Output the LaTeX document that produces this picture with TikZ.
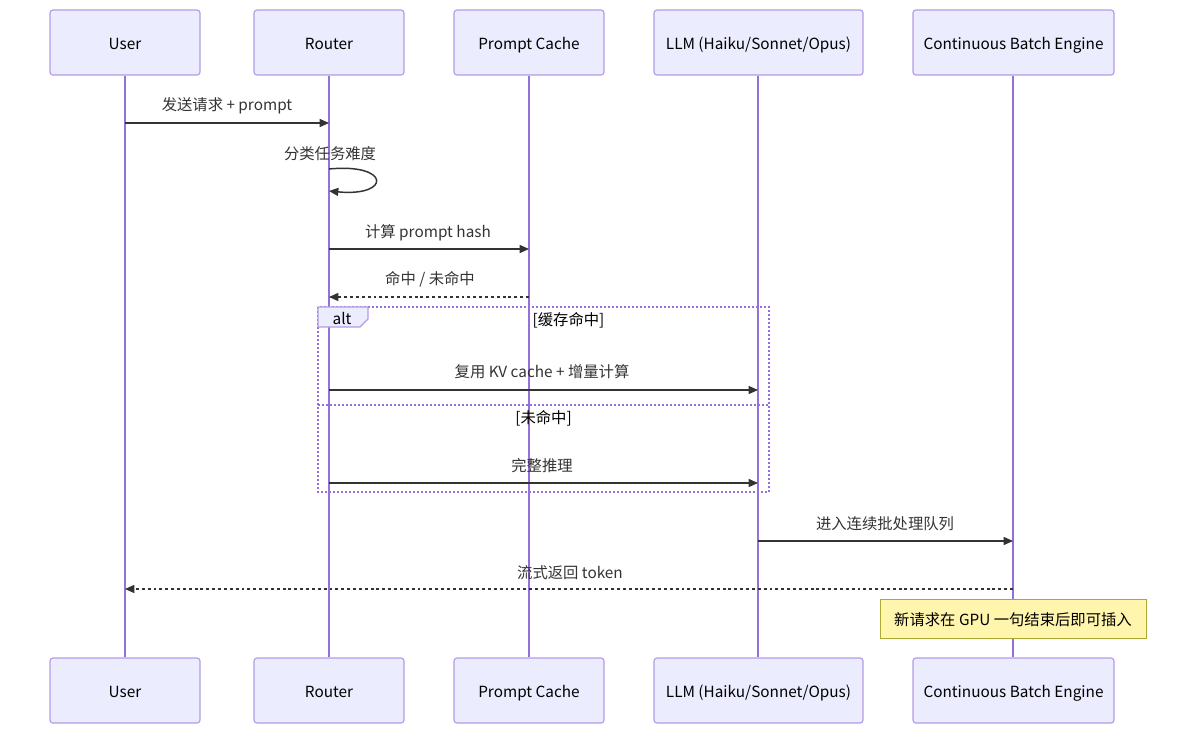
\documentclass[tikz,border=0pt]{standalone}
\usepackage{fontspec}
\setmainfont{Noto Sans CJK SC}
\usetikzlibrary{arrows.meta}
\definecolor{actfill}{HTML}{ECECFF}
\definecolor{actline}{HTML}{9370DB}
\definecolor{msg}{HTML}{333333}
\definecolor{notefill}{HTML}{FFF5AD}
\definecolor{noteline}{HTML}{AAAA33}
\tikzset{
  actor/.style={draw=actline!70, line width=0.9pt, fill=actfill, rounded corners=2.2pt, minimum height=48.75pt, inner sep=0pt, font=\fontsize{11.5}{13}\selectfont, text=black, text height=10.75pt, text depth=0.25pt},
  life/.style={draw=actline, line width=1.4pt},
  msgline/.style={draw=msg, line width=1.1pt, -{Triangle[length=7pt,width=6pt]}},
  msgdash/.style={msgline, dash pattern=on 2.2pt off 2.2pt},
  lbl/.style={font=\fontsize{11.5}{13}\selectfont, text=msg, inner sep=0pt, text height=10.75pt, text depth=0.25pt},
  frame/.style={draw=actline, line width=1.2pt, dash pattern=on 1.5pt off 1.5pt},
}
\begin{document}
\begin{tikzpicture}[x=0.75pt,y=-0.75pt]
\useasboundingbox (0,0) rectangle (1197,734);
% actors top
\node[actor, minimum width=112.5pt] (ut) at (125,42.5) {User};
\node[actor, minimum width=112.5pt] (rt) at (329,42.5) {Router};
\node[actor, minimum width=112.5pt] (pt) at (529,42.5) {Prompt Cache};
\node[actor, minimum width=156.75pt] (lt) at (758.5,42.5) {LLM (Haiku/Sonnet/Opus)};
\node[actor, minimum width=150.75pt] (bt) at (1013.5,42.5) {Continuous Batch Engine};
% actors bottom
\node[actor, minimum width=112.5pt] (ub) at (125,690.5) {User};
\node[actor, minimum width=112.5pt] (rb) at (329,690.5) {Router};
\node[actor, minimum width=112.5pt] (pb) at (529,690.5) {Prompt Cache};
\node[actor, minimum width=156.75pt] (lb) at (758.5,690.5) {LLM (Haiku/Sonnet/Opus)};
\node[actor, minimum width=150.75pt] (bb) at (1013.5,690.5) {Continuous Batch Engine};
% lifelines
\draw[life] (ut.south) -- (ub.north);
\draw[life] (rt.south) -- (rb.north);
\draw[life] (pt.south) -- (pb.north);
\draw[life] ([xshift=-0.375pt]lt.south) -- ([xshift=-0.375pt]lb.north);
\draw[life] ([xshift=-0.375pt]bt.south) -- ([xshift=-0.375pt]bb.north);
% alt frame
\coordinate (fa) at (318,307);
\coordinate (fb) at (769,492);
\draw[frame] (fa) rectangle (fb);
\draw[frame] (318,405) coordinate (da) -- (769,405) coordinate (db);
\draw[draw=actline!70, line width=0.9pt, fill=actfill] (318,307) -- (368,307) -- (368,319) -- (360,327) -- (318,327) -- cycle;
\node[lbl, text=black] (alt) at (342,318) {alt};
\node[lbl, text=black] (c1) at (568.5,319) {[缓存命中]};
\node[lbl, text=black] (c2) at (543.5,417) {[未命中]};
% messages
\coordinate (m1a) at (125,123); \coordinate (m1b) at (329,123);
\draw[msgline] (m1a) -- (m1b);
\node[lbl] (l1) at (227,104) {发送请求 + prompt};
\coordinate (s1) at (329,169); \coordinate (s2) at (329,191);
\draw[msgline] (s1) .. controls (391,163) and (391,197) .. (s2);
\node[lbl] (l2) at (330,153) {分类任务难度};
\coordinate (m3a) at (329,249); \coordinate (m3b) at (529,249);
\draw[msgline] (m3a) -- (m3b);
\node[lbl] (l3) at (428,231) {计算 prompt hash};
\coordinate (m4a) at (529,297); \coordinate (m4b) at (329,297);
\draw[msgdash] (m4a) -- (m4b);
\node[lbl] (l4) at (430,278) {命中 / 未命中};
\coordinate (m5a) at (329,390); \coordinate (m5b) at (758,390);
\draw[msgline] (m5a) -- (m5b);
\node[lbl] (l5) at (542,371) {复用 KV cache + 增量计算};
\coordinate (m6a) at (329,483); \coordinate (m6b) at (758,483);
\draw[msgline] (m6a) -- (m6b);
\node[lbl] (l6) at (542,464) {完整推理};
\coordinate (m7a) at (758,541); \coordinate (m7b) at (1013,541);
\draw[msgline] (m7a) -- (m7b);
\node[lbl] (l7) at (885,522) {进入连续批处理队列};
\coordinate (m8a) at (1013,589); \coordinate (m8b) at (125,589);
\draw[msgdash] (m8a) -- (m8b);
\node[lbl] (l8) at (570,571) {流式返回 token};
% note
\node[draw=noteline, line width=0.75pt, fill=notefill, minimum width=199.5pt, minimum height=29.25pt, inner sep=0pt, font=\fontsize{11.5}{13}\selectfont, text=black, text height=10.75pt, text depth=0.25pt] (note) at (1013,618.5) {新请求在 GPU 一句结束后即可插入};
\end{tikzpicture}
\end{document}
